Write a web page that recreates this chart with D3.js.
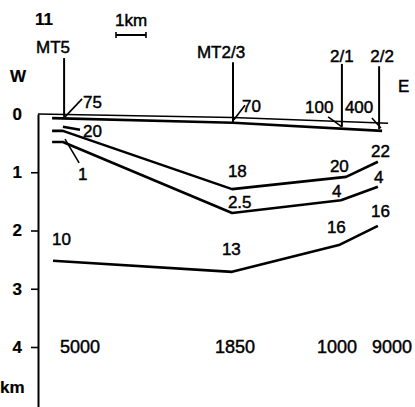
<!DOCTYPE html>
<html lang="en">
<head>
    <meta charset="UTF-8">
    <title>MT profile 11</title>
    <script src="https://d3js.org/d3.v7.min.js"></script>
    <style>
        body { margin: 0; background: #fff; }
        svg text { font-family: "Liberation Sans", Arial, sans-serif; fill: #000; stroke: #000; stroke-width: 0.45px; }
        .b { font-weight: bold; stroke-width: 0.2px; }
    </style>
</head>
<body>
<div id="chart"></div>
<script>
    // stations along the profile (km from the W edge of the section)
    const stations   = ["MT5", "MT2/3", "2/1", "2/2"];
    const stationKm  = [0.87, 6.5, 10.13, 11.37];
    const stationTop = [-0.96, -0.89, -0.86, -0.82];
    const stationBot = [0.05, 0.14, 0.22, 0.26];
    const stationLabelKm    = [0.5, 6.1, 10.13, 11.47];
    const stationLabelDepth = [-1.05, -0.96, -0.89, -0.89];

    // resistivities (ohm m) per layer at each station
    const rhoTop      = ["75", "70", "100", "400"];
    const rhoLayer2   = ["20", "18", "20", "22"];
    const rhoLayer3   = ["1", "2.5", "4", "4"];
    const rhoLayer4   = ["10", "13", "16", "16"];
    const rhoBasement = ["5000", "1850", "1000", "9000"];

    // layer boundaries: distance (km) and depth (km)
    const surfaceKm = [0, 6.5, 11.67],            surfaceDepth = [0, 0.06, 0.16];
    const base1Km   = [0.47, 6.5, 11.47],         base1Depth   = [0.07, 0.15, 0.29];
    const lensKm    = [0.83, 1.4],                lensDepth    = [0.22, 0.27];
    const base2Km   = [0.47, 0.83, 6.47, 10.27, 11.33], base2Depth = [0.29, 0.29, 1.29, 1.08, 0.82];
    const base3Km   = [0.47, 0.83, 6.47, 10.1, 11.33],  base3Depth = [0.48, 0.48, 1.70, 1.48, 1.25];
    const base4Km   = [0.5, 6.47, 10.03, 11.33],        base4Depth = [2.52, 2.71, 2.25, 1.92];

    // label anchors (km, depth of baseline)
    const topLabKm = [1.5, 6.8, 8.9, 10.23],   topLabD = [-0.10, -0.03, -0.02, -0.02];
    const l2LabKm  = [1.5, 6.33, 9.73, 11.1],  l2LabD  = [0.39, 1.08, 1.0, 0.74];
    const l3LabKm  = [1.33, 6.33, 9.8, 11.2],  l3LabD  = [1.13, 1.61, 1.42, 1.18];
    const l4LabKm  = [0.47, 6.13, 9.63, 11.1], l4LabD  = [2.25, 2.42, 2.04, 1.77];
    const bsLabKm  = [0.73, 5.9, 9.3, 11.13],  bsLabD  = 4.1;

    // leader lines [km0, d0, km1, d1]
    const leaders = [
        [0.9, 0.05, 1.47, -0.26],
        [6.53, 0.10, 6.9, -0.15],
        [9.67, 0.05, 10.13, 0.22],
        [11.13, 0.07, 11.43, 0.24],
        [0.9, 0.43, 1.37, 0.84]
    ];

    const depthTicks = [0, 1, 2, 3, 4];

    const width = 415, height = 407;
    const x = d3.scaleLinear().domain([0, 12]).range([38, 398]);
    const y = d3.scaleLinear().domain([0, 5.03]).range([114, 407]);

    const svg = d3.select("#chart").append("svg")
        .attr("width", width)
        .attr("height", height);

    const line = d3.line().x(d => x(d[0])).y(d => y(d[1]));
    const pts = (ks, ds) => ks.map((k, i) => [k, ds[i]]);

    // depth axis
    const axis = svg.append("g")
        .attr("transform", "translate(" + x(0) + ",0)")
        .call(d3.axisLeft(y).tickValues(depthTicks).tickFormat(d3.format("d"))
            .tickSize(7).tickSizeOuter(0).tickPadding(9));
    axis.select(".domain").attr("stroke-width", 2);
    axis.selectAll(".tick line").attr("stroke-width", 1.6)
        .filter(d => d === 0).remove();
    axis.selectAll(".tick text")
        .attr("class", "b")
        .style("font-family", "'Liberation Sans', Arial, sans-serif")
        .attr("font-size", 17);

    // boundaries
    svg.append("path").attr("d", line(pts(surfaceKm, surfaceDepth)))
        .attr("fill", "none").attr("stroke", "#000").attr("stroke-width", 1.6);
    [[base1Km, base1Depth], [lensKm, lensDepth], [base2Km, base2Depth],
     [base3Km, base3Depth], [base4Km, base4Depth]].forEach(b => {
        svg.append("path").attr("d", line(pts(b[0], b[1])))
            .attr("fill", "none").attr("stroke", "#000")
            .attr("stroke-width", 2.6).attr("stroke-linejoin", "round");
    });

    // stations
    stations.forEach((s, i) => {
        svg.append("line")
            .attr("x1", x(stationKm[i])).attr("x2", x(stationKm[i]))
            .attr("y1", y(stationTop[i])).attr("y2", y(stationBot[i]))
            .attr("stroke", "#000").attr("stroke-width", 2);
        svg.append("text")
            .attr("x", x(stationLabelKm[i])).attr("y", y(stationLabelDepth[i]))
            .attr("text-anchor", "middle").attr("font-size", 17)
            .text(s);
    });

    // leaders
    leaders.forEach(l => {
        svg.append("line")
            .attr("x1", x(l[0])).attr("y1", y(l[1]))
            .attr("x2", x(l[2])).attr("y2", y(l[3]))
            .attr("stroke", "#000").attr("stroke-width", 1.6);
    });

    // resistivity labels
    function labels(vals, ks, ds, size) {
        vals.forEach((v, i) => {
            svg.append("text")
                .attr("x", x(ks[i]))
                .attr("y", y(Array.isArray(ds) ? ds[i] : ds))
                .attr("font-size", size)
                .text(v);
        });
    }
    labels(rhoTop, topLabKm, topLabD, 17);
    labels(rhoLayer2, l2LabKm, l2LabD, 17);
    labels(rhoLayer3, l3LabKm, l3LabD, 17);
    labels(rhoLayer4, l4LabKm, l4LabD, 17);
    labels(rhoBasement, bsLabKm, bsLabD, 18);

    // 1 km scale bar
    const bar = svg.append("g");
    bar.append("line").attr("x1", x(2.6)).attr("x2", x(3.6)).attr("y1", 35).attr("y2", 35)
        .attr("stroke", "#000").attr("stroke-width", 2);
    [2.6, 3.6].forEach(k => bar.append("line")
        .attr("x1", x(k)).attr("x2", x(k)).attr("y1", 32).attr("y2", 38)
        .attr("stroke", "#000").attr("stroke-width", 1.6));
    svg.append("text").attr("x", x(3.1)).attr("y", 26)
        .attr("text-anchor", "middle").attr("font-size", 17).text("1km");

    // other annotations
    svg.append("text").attr("class", "b").attr("x", 35).attr("y", 25)
        .attr("font-size", 17).text("11");
    svg.append("text").attr("class", "b").attr("x", 10).attr("y", 82)
        .attr("font-size", 17).text("W");
    svg.append("text").attr("x", 398).attr("y", 92)
        .attr("font-size", 17).text("E");
    svg.append("text").attr("class", "b").attr("x", 0).attr("y", 393)
        .attr("font-size", 17).text("km");
</script>
</body>
</html>
